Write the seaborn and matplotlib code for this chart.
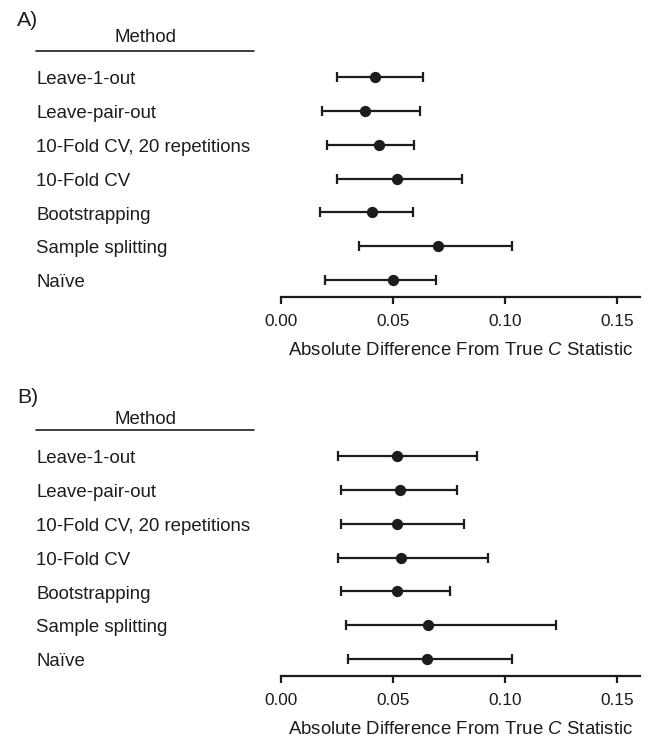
import matplotlib
matplotlib.use("Agg")
import matplotlib.pyplot as plt
import matplotlib.transforms as mtrans
from matplotlib.lines import Line2D
import seaborn as sns
import pandas as pd

methods = ["Leave-1-out", "Leave-pair-out", "10-Fold CV, 20 repetitions",
           "10-Fold CV", "Bootstrapping", "Sample splitting", "Naïve"]

a_est = [0.0421, 0.0375, 0.0439, 0.0518, 0.0406, 0.0702, 0.0500]
a_lo = [0.0252, 0.0185, 0.0207, 0.0253, 0.0174, 0.0350, 0.0199]
a_hi = [0.0635, 0.0621, 0.0597, 0.0810, 0.0591, 0.1034, 0.0695]

b_est = [0.0518, 0.0531, 0.0518, 0.0537, 0.0518, 0.0658, 0.0655]
b_lo = [0.0255, 0.0267, 0.0267, 0.0255, 0.0270, 0.0293, 0.0300]
b_hi = [0.0875, 0.0787, 0.0818, 0.0924, 0.0758, 0.1228, 0.1031]

xticks = [0.00, 0.05, 0.10, 0.15]
xticklabels = ["0.00", "0.05", "0.10", "0.15"]
panel_labels = ["A)", "B)"]

sns.set_theme(style="white")
plt.rcParams["font.family"] = ["Liberation Sans", "DejaVu Sans"]
plt.rcParams["mathtext.fontset"] = "custom"
plt.rcParams["mathtext.it"] = "Liberation Sans:italic"
plt.rcParams["mathtext.rm"] = "Liberation Sans"

W, H = 648, 738
fig = plt.figure(figsize=(W / 100, H / 100), dpi=100)
ink = "#1e1b1c"
fs = 13.4
tfs = 12.4

def px(x, y):
    return x / W, 1 - y / H

panels = [
    dict(est=a_est, lo=a_lo, hi=a_hi, top=60, bot=297, lab_y=26.5, meth_y=42.5, line_y=50.5),
    dict(est=b_est, lo=b_lo, hi=b_hi, top=439, bot=676, lab_y=403, meth_y=424, line_y=429.5),
]

for p, plab in zip(panels, panel_labels):
    left = 280.7 / W
    width = (640 - 280.7) / W
    ax = fig.add_axes([left, 1 - p["bot"] / H, width, (p["bot"] - p["top"]) / H])
    df = pd.DataFrame({"method": methods, "est": p["est"], "lo": p["lo"], "hi": p["hi"]})
    df["pos"] = range(len(df))
    ax.errorbar(df["est"], df["pos"],
                xerr=[df["est"] - df["lo"], df["hi"] - df["est"]],
                fmt="none", ecolor=ink, elinewidth=1.6, capsize=3.8, capthick=1.6, zorder=2)
    sns.scatterplot(data=df, x="est", y="pos", color=ink, s=66, edgecolor=ink,
                    linewidth=0, ax=ax, zorder=3, legend=False)
    ax.set_ylim(6.5, -0.5)
    ax.set_xlim(0, 0.1604)
    ax.set_yticks([])
    ax.set_xticks(xticks)
    ax.set_xticklabels(xticklabels, fontsize=tfs, color=ink)
    ax.set_xlabel("Absolute Difference From True $\\it{C}$ Statistic", fontsize=fs,
                  color=ink, labelpad=9.5)
    ax.set_ylabel("")
    for s in ["top", "right", "left"]:
        ax.spines[s].set_visible(False)
    ax.spines["bottom"].set_linewidth(1.6)
    ax.spines["bottom"].set_color(ink)
    ax.tick_params(axis="x", direction="out", length=5, width=1.6, color=ink,
                   pad=7, bottom=True)
    ax.patch.set_alpha(0)

    trans = mtrans.blended_transform_factory(fig.transFigure, ax.transData)
    trans = trans + mtrans.ScaledTranslation(0, -7.2 / 100, fig.dpi_scale_trans)
    for i, m in enumerate(df["method"]):
        ax.text(36 / W, i, m, transform=trans, ha="left", va="baseline",
                fontsize=fs, color=ink, clip_on=False)

    fig.text(*px(17, p["lab_y"]), plab, ha="left", va="baseline", fontsize=15.3, color=ink)
    fig.text(*px(145, p["meth_y"]), "Method", ha="center", va="baseline", fontsize=fs, color=ink)
    x0, y0 = px(36, p["line_y"])
    x1, _ = px(254, p["line_y"])
    fig.add_artist(Line2D([x0, x1], [y0, y0], transform=fig.transFigure,
                          color=ink, linewidth=1.2))

fig.savefig("out.png", dpi=100)
